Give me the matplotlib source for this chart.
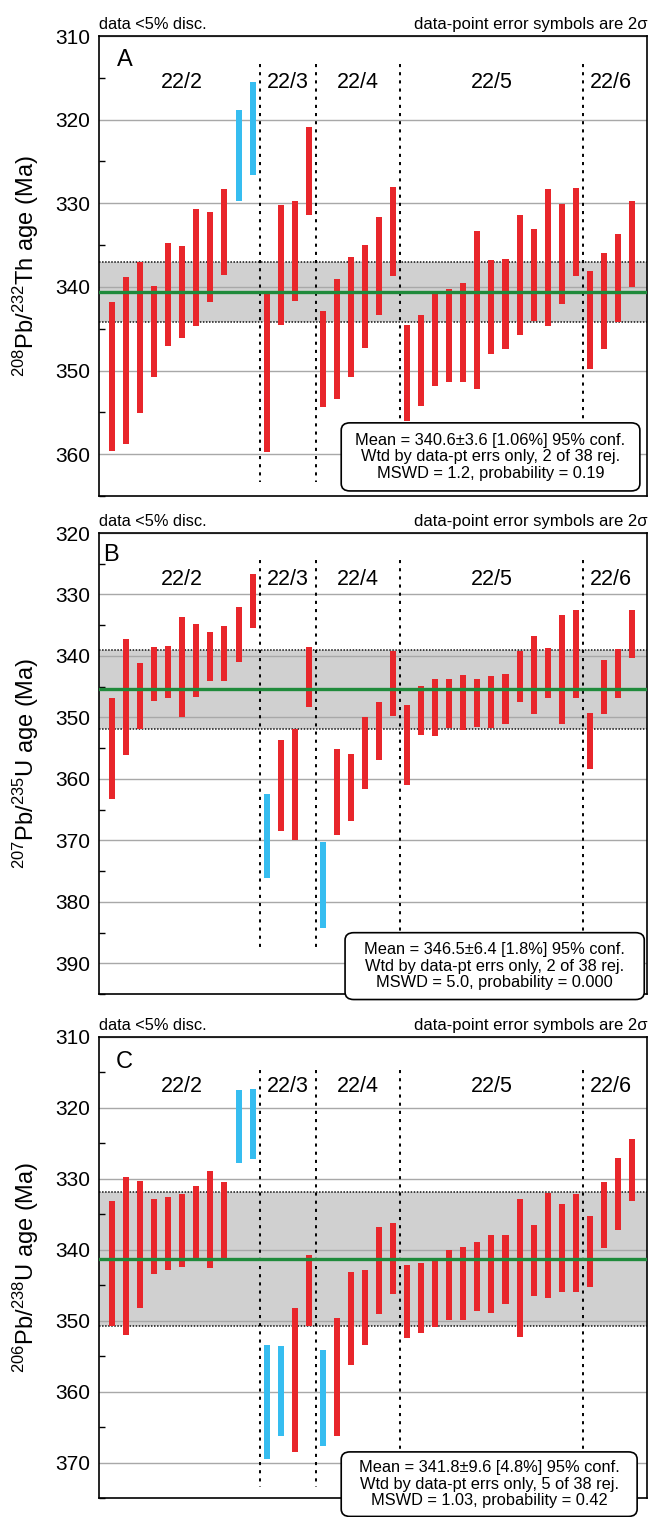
import numpy as np
import matplotlib
matplotlib.use("Agg")
import matplotlib.pyplot as plt
from matplotlib.patches import FancyBboxPatch
from matplotlib.ticker import MultipleLocator

plt.rcParams['font.family'] = ['Liberation Sans', 'DejaVu Sans']
plt.rcParams['mathtext.fontset'] = 'custom'
plt.rcParams['mathtext.rm'] = 'Liberation Sans'
plt.rcParams['mathtext.it'] = 'Liberation Sans:italic'
plt.rcParams['mathtext.bf'] = 'Liberation Sans:bold'

# Wells / sample groups along the x axis
group_names = ['22/2', '22/3', '22/4', '22/5', '22/6']
group_sizes = [11, 4, 6, 13, 4]

# Panel A: 208Pb/232Th ages (upper and lower ends of 2 sigma bars, Ma)
a_young = [341.8, 338.8, 337.0, 339.9, 334.7, 335.1, 330.7, 331.1, 328.3, 318.8,
           315.5, 340.9, 330.2, 329.7, 320.9, 342.9, 339.0, 336.4, 335.0, 331.7,
           328.0, 344.5, 343.4, 340.7, 340.2, 339.5, 333.3, 336.8, 336.7, 331.4,
           333.1, 328.3, 330.1, 328.2, 338.1, 335.9, 333.7, 329.7]
a_old = [359.6, 358.8, 355.1, 350.8, 347.1, 346.1, 344.7, 341.8, 338.6, 329.7,
         326.6, 359.7, 344.5, 341.7, 331.4, 354.3, 353.4, 350.8, 347.3, 343.4,
         338.7, 356.0, 354.2, 351.8, 351.4, 351.4, 352.2, 348.0, 347.4, 345.8,
         344.1, 344.7, 342.0, 338.7, 349.8, 347.4, 344.2, 340.0]
a_rejected = [10, 11]
a_mean, a_err = 340.6, 3.6
a_stats = ('Mean = 340.6\u00b13.6 [1.06%] 95% conf.\n'
           'Wtd by data-pt errs only, 2 of 38 rej.\n'
           'MSWD = 1.2, probability = 0.19')

# Panel B: 207Pb/235U ages
b_young = [346.9, 337.2, 341.1, 338.6, 338.4, 333.6, 334.8, 336.1, 335.1, 332.0,
           326.7, 362.4, 353.7, 351.9, 338.6, 370.3, 355.1, 356.0, 349.9, 347.5,
           339.2, 348.0, 344.9, 343.8, 343.7, 343.1, 343.7, 343.3, 343.0, 339.2,
           336.7, 338.7, 333.4, 332.5, 349.3, 340.7, 338.9, 332.6]
b_old = [363.2, 356.1, 351.9, 347.4, 346.8, 350.0, 346.7, 344.1, 344.0, 341.0,
         335.4, 376.1, 368.5, 370.0, 348.3, 384.3, 369.2, 366.8, 361.6, 357.0,
         349.8, 361.0, 352.8, 353.1, 351.8, 352.1, 351.5, 351.8, 351.1, 347.5,
         349.4, 346.9, 351.1, 346.9, 358.4, 349.4, 346.9, 340.3]
b_rejected = [12, 16]
b_mean, b_err = 345.45, 6.45
b_stats = ('Mean = 346.5\u00b16.4 [1.8%] 95% conf.\n'
           'Wtd by data-pt errs only, 2 of 38 rej.\n'
           'MSWD = 5.0, probability = 0.000')

# Panel C: 206Pb/238U ages
c_young = [333.1, 329.8, 330.3, 332.8, 332.6, 332.2, 331.0, 328.9, 330.4, 317.5,
           317.4, 353.4, 353.5, 348.2, 340.7, 354.1, 349.6, 343.2, 342.8, 336.8,
           336.2, 342.1, 341.8, 341.4, 340.0, 339.6, 338.9, 337.9, 337.9, 332.8,
           336.5, 332.0, 333.6, 332.1, 335.2, 330.4, 327.1, 324.4]
c_old = [350.8, 352.0, 348.2, 343.4, 342.8, 342.4, 341.1, 342.6, 341.1, 327.7,
         327.2, 369.5, 366.3, 368.5, 350.7, 367.7, 366.2, 356.2, 353.4, 349.0,
         346.2, 352.4, 351.7, 350.9, 349.9, 349.9, 348.7, 348.9, 347.7, 352.3,
         346.5, 346.8, 346.0, 346.0, 345.3, 339.8, 337.2, 333.1]
c_rejected = [10, 11, 12, 13, 16]
c_mean, c_err = 341.3, 9.5
c_stats = ('Mean = 341.8\u00b19.6 [4.8%] 95% conf.\n'
           'Wtd by data-pt errs only, 5 of 38 rej.\n'
           'MSWD = 1.03, probability = 0.42')

RED = '#e8262b'
BLUE = '#36bdf0'
GREEN = '#1f8a3b'
BAND = '#d0d0d0'
GRID = '#a8a8a8'


def draw_panel(ax, young, old, rejected, mean, err, stats, letter, ylabel,
               ylim, div_span, box, letter_x, letter_y, group_y):
    young = np.array(young)
    old = np.array(old)
    x = np.arange(1, len(young) + 1)
    colors = [BLUE if i in rejected else RED for i in x]

    ax.set_xlim(0.07, 39.07)
    ax.set_ylim(ylim[1], ylim[0])
    ax.set_axisbelow(True)

    # weighted mean band
    ax.axhspan(mean - err, mean + err, color=BAND, lw=0, zorder=0.2)
    for y in (mean - err, mean + err):
        ax.axhline(y, color='#111111', lw=1.1, ls=(0, (1, 1)), zorder=1)

    ax.bar(x, old - young, bottom=young, width=0.43, color=colors, zorder=3)
    ax.axhline(mean, color=GREEN, lw=2.4, zorder=4)

    # group separators and names
    edges = np.cumsum(group_sizes)[:-1] + 0.5
    ax.vlines(edges, div_span[0], div_span[1], colors='black', lw=1.4,
              linestyles=(0, (1.6, 2.6)), zorder=2)
    starts = np.concatenate([[0], np.cumsum(group_sizes)[:-1]])
    for name, s, n in zip(group_names, starts, group_sizes):
        ax.text(s + (n + 1) / 2, group_y, name, ha='center', va='center',
                fontsize=15.5, transform=ax.get_xaxis_transform())

    ax.text(letter_x, letter_y, letter, transform=ax.transAxes, ha='left',
            va='center', fontsize=17)

    ax.set_xticks([])
    ax.yaxis.set_major_locator(MultipleLocator(10))
    ax.yaxis.set_minor_locator(MultipleLocator(5))
    ax.tick_params(axis='y', which='major', length=0, pad=6.5, labelsize=15)
    ax.tick_params(axis='y', which='minor', direction='in', length=4, width=1)
    ax.yaxis.grid(True, which='major', color=GRID, lw=1.0)
    for sp in ax.spines.values():
        sp.set_linewidth(1.2)

    ax.set_ylabel(ylabel, fontsize=17)
    ax.yaxis.set_label_coords(-0.105, 0.5)

    ax.text(0, 1.024, 'data <5% disc.', transform=ax.transAxes, ha='left',
            va='center', fontsize=11.8)
    ax.text(1.002, 1.024, 'data-point error symbols are 2\u03c3',
            transform=ax.transAxes, ha='right', va='center', fontsize=12)

    x0, x1, y0, y1 = box
    patch = FancyBboxPatch((x0, y0), x1 - x0, y1 - y0,
                           boxstyle='round,pad=0,rounding_size=0.016',
                           transform=ax.transAxes, fc='white', ec='black',
                           lw=1.2, clip_on=False, zorder=6)
    ax.add_patch(patch)
    ax.text((x0 + x1) / 2, (y0 + y1) / 2, stats, transform=ax.transAxes,
            ha='center', va='center', fontsize=11.8, linespacing=1.1,
            zorder=7)


fig = plt.figure(figsize=(6.5, 15.17), dpi=100)
left, width = 99 / 650, 548 / 650
ax_a = fig.add_axes([left, 1 - 496 / 1517, width, 460 / 1517])
ax_b = fig.add_axes([left, 1 - 994 / 1517, width, 461 / 1517])
ax_c = fig.add_axes([left, 1 - 1498 / 1517, width, 461 / 1517])

draw_panel(ax_a, a_young, a_old, a_rejected, a_mean, a_err, a_stats, 'A',
           r'$^{208}$Pb/$^{232}$Th age (Ma)', (310, 365), (313.4, 363.3),
           (0.442, 0.987, 0.011, 0.159), 0.032, 0.947, 0.898)
draw_panel(ax_b, b_young, b_old, b_rejected, b_mean, b_err, b_stats, 'B',
           r'$^{207}$Pb/$^{235}$U age (Ma)', (320, 395), (324.4, 388.0),
           (0.449, 0.995, -0.012, 0.133), 0.008, 0.952, 0.899)
draw_panel(ax_c, c_young, c_old, c_rejected, c_mean, c_err, c_stats, 'C',
           r'$^{206}$Pb/$^{238}$U age (Ma)', (310, 375), (314.7, 373.5),
           (0.442, 0.982, -0.04, 0.100), 0.031, 0.946, 0.892)

fig.savefig('out.png', dpi=100)
